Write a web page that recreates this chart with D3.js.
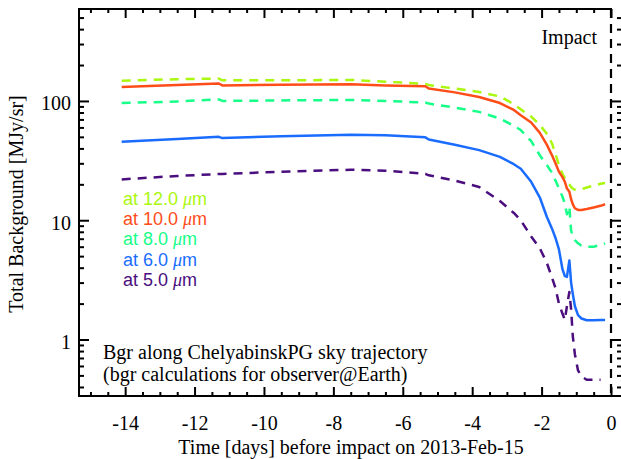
<!DOCTYPE html>
<html>
<head>
<meta charset="utf-8">
<script src="https://cdn.jsdelivr.net/npm/d3@7"></script>
<style>
  body { margin: 0; background: #fff; }
  svg { display: block; }
  text { font-family: "Liberation Serif", serif; fill: #000; }
</style>
</head>
<body>
<div id="chart"></div>
<script>
// Time axis (days before impact), shared by all series
const days = [-14.1, -12.5, -11.3, -11.2, -9.5, -7.5, -6.5, -5.35, -5.25, -4.5, -3.8, -3.2, -2.8, -2.6,
  -2.3, -2.05, -1.85, -1.7, -1.6, -1.5, -1.4, -1.33, -1.27, -1.2, -1.15, -1.1, -1.04, -0.95, -0.85,
  -0.7, -0.5, -0.3, -0.17];

// Total background [MJy/sr] per wavelength (null = no sample)
const bgr12 = [148, 152, 154, 149, 149, 150, 145, 139, 136, 127, 119, 109, 94, 85,
  74, 63, 53, 44, 36, 29, 24.5, 22.5, 21, 20, 19, 18.4, 18, 17.9, 18.2, 18.8, 19.5, 20.2, 20.5];
const bgr10 = [131, 136, 140, 135, 137, 138, 135, 133, 127, 118, 108, 96, 84, 76,
  66, 54, 43, 35, 30, 25.5, 23, 21, 18.5, 17.3, 15, 13.6, 12.6, 12.2, 12.2, 12.4, 12.8, 13.2, 13.6];
const bgr8 = [96, 99, 103, 100, 101, 102, 100, 97, 95, 88, 81, 71, 62, 57,
  46, 35, 29, 25, 21.5, 18.5, 15.8, 13.8, 11.2, 13, 8.2, 7.3, 6.8, 6.4, 6.1, 6.0, 6.0, 6.2, 6.4];
const bgr6 = [45.5, 48, 50, 48.8, 50.7, 52, 51.5, 49.5, 47.5, 43, 38.7, 34, 29.5, 27,
  21, 15.5, 10.7, 8.5, 7.1, 5.7, 3.9, 3.4, 3.35, 4.6, 3.0, 2.4, 1.9, 1.6, 1.5, 1.45, 1.45, 1.46, 1.46];
const bgr5 = [22, 23.5, 24.4, 24.4, 25.5, 26.5, 26, 24.5, 23.8, 21.5, 19, 14.5, 11.5, 10,
  7.3, 5.8, 4.4, 3.3, 2.7, 2.0, 1.65, 1.46, 1.9, 2.5, 1.8, 1.06, 0.75, 0.55, 0.49, 0.46, 0.46, 0.46, null];

const wavelengths = ["12.0", "10.0", "8.0", "6.0", "5.0"];
const xTicks = [-14, -12, -10, -8, -6, -4, -2, 0];
const yTicks = [1, 10, 100];
const yTickLabels = ["1", "10", "100"];

// Series styling
const series = [
  { wl: wavelengths[0], values: bgr12, color: "#aaf70f", dash: "9,7" },
  { wl: wavelengths[1], values: bgr10, color: "#ff4d1a", dash: null },
  { wl: wavelengths[2], values: bgr8, color: "#17ff88", dash: "9,7" },
  { wl: wavelengths[3], values: bgr6, color: "#1a6cff", dash: null },
  { wl: wavelengths[4], values: bgr5, color: "#4a0e7e", dash: "9,7" }
];

const W = 621, H = 459;
const plotLeft = 79, plotTop = 9, plotRight = 622, plotBottom = 396;

const svg = d3.select("#chart").append("svg")
  .attr("width", W).attr("height", H);

// Scales
const x = d3.scaleLinear().domain([-15.33, 0.317]).range([plotLeft, plotRight]);
const y = d3.scaleLog().domain([0.336, 590]).range([plotBottom, plotTop]);

// Minor ticks
const xMinor = d3.range(-15, 0.01, 0.5).filter(d => !xTicks.includes(d));
const yMinor = [];
[0.1, 1, 10, 100].forEach(dec => {
  for (let k = 2; k <= 9; k++) yMinor.push(dec * k);
});
const yMinorIn = yMinor.filter(v => v > 0.336 && v < 590);

const tickStyle = g => g.selectAll("line").attr("stroke", "#000").attr("stroke-width", 2);

// Bottom axis
const gx = svg.append("g").attr("transform", `translate(0,${plotBottom})`);
gx.call(d3.axisBottom(x).tickValues(xTicks).tickFormat(d => String(d))
  .tickSize(-9).tickSizeOuter(0).tickPadding(20));
gx.select(".domain").remove();
gx.call(tickStyle);
gx.selectAll("text").attr("font-size", 20).attr("font-family", "Liberation Serif");
svg.append("g").attr("transform", `translate(0,${plotBottom})`)
  .call(d3.axisBottom(x).tickValues(xMinor).tickFormat("").tickSize(-4).tickSizeOuter(0))
  .call(g => g.select(".domain").remove())
  .call(tickStyle);

// Top axis
svg.append("g").attr("transform", `translate(0,${plotTop})`)
  .call(d3.axisTop(x).tickValues(xTicks).tickFormat("").tickSize(-9).tickSizeOuter(0))
  .call(g => g.select(".domain").remove())
  .call(tickStyle);
svg.append("g").attr("transform", `translate(0,${plotTop})`)
  .call(d3.axisTop(x).tickValues(xMinor).tickFormat("").tickSize(-4).tickSizeOuter(0))
  .call(g => g.select(".domain").remove())
  .call(tickStyle);

// Left axis
const gy = svg.append("g").attr("transform", `translate(${plotLeft},0)`);
gy.call(d3.axisLeft(y).tickValues(yTicks).tickFormat((d, i) => yTickLabels[i])
  .tickSize(-10).tickSizeOuter(0).tickPadding(8));
gy.select(".domain").remove();
gy.call(tickStyle);
gy.selectAll("text").attr("font-size", 20).attr("font-family", "Liberation Serif").attr("dy", "0.45em");
svg.append("g").attr("transform", `translate(${plotLeft},0)`)
  .call(d3.axisLeft(y).tickValues(yMinorIn).tickFormat("").tickSize(-5).tickSizeOuter(0))
  .call(g => g.select(".domain").remove())
  .call(tickStyle);

// Right axis
svg.append("g").attr("transform", `translate(${plotRight},0)`)
  .call(d3.axisRight(y).tickValues(yTicks).tickFormat("").tickSize(-10).tickSizeOuter(0))
  .call(g => g.select(".domain").remove())
  .call(tickStyle);
svg.append("g").attr("transform", `translate(${plotRight},0)`)
  .call(d3.axisRight(y).tickValues(yMinorIn).tickFormat("").tickSize(-5).tickSizeOuter(0))
  .call(g => g.select(".domain").remove())
  .call(tickStyle);

// Frame lines
svg.append("line").attr("x1", plotLeft).attr("x2", plotLeft).attr("y1", plotTop - 1).attr("y2", plotBottom + 1)
  .attr("stroke", "#000").attr("stroke-width", 2);
svg.append("line").attr("x1", plotLeft - 1).attr("x2", W).attr("y1", plotBottom).attr("y2", plotBottom)
  .attr("stroke", "#000").attr("stroke-width", 2);
svg.append("line").attr("x1", plotLeft - 1).attr("x2", x(0) + 1).attr("y1", plotTop).attr("y2", plotTop)
  .attr("stroke", "#000").attr("stroke-width", 2);

// Impact line
svg.append("line").attr("x1", x(0)).attr("x2", x(0)).attr("y1", plotTop).attr("y2", plotBottom)
  .attr("stroke", "#000").attr("stroke-width", 2.2).attr("stroke-dasharray", "9,6");
svg.append("text").attr("x", x(0) - 14).attr("y", 44).attr("text-anchor", "end")
  .attr("font-size", 20).text("Impact");

// Lines
const line = d3.line().defined(d => d != null).x((d, i) => x(days[i])).y(d => y(d));
svg.selectAll(".series").data(series).enter().append("path")
  .attr("class", "series")
  .attr("d", s => line(s.values))
  .attr("fill", "none")
  .attr("stroke", s => s.color)
  .attr("stroke-width", 2.5)
  .attr("stroke-linejoin", "round")
  .attr("stroke-dasharray", s => s.dash);

// Legend
const legend = svg.append("g");
series.forEach((s, i) => {
  const t = legend.append("text")
    .attr("x", 123).attr("y", 204.5 + i * 20.4)
    .attr("font-size", 18)
    .style("font-family", "'Liberation Sans', Arial, sans-serif")
    .style("fill", s.color);
  t.append("tspan").text(`at ${s.wl} `);
  t.append("tspan").style("font-style", "italic").style("font-family", "'Liberation Serif', serif").text("\u03bc");
  t.append("tspan").text("m");
});

// Annotation
svg.append("text").attr("x", 103).attr("y", 359).attr("font-size", 20)
  .text("Bgr along ChelyabinskPG sky trajectory");
svg.append("text").attr("x", 103).attr("y", 381).attr("font-size", 20)
  .text("(bgr calculations for observer@Earth)");

// Axis titles
svg.append("text").attr("x", (plotLeft + x(0)) / 2 + 6).attr("y", 454).attr("text-anchor", "middle")
  .attr("font-size", 20).text("Time [days] before impact on 2013-Feb-15");
svg.append("text").attr("transform", `translate(23,${204}) rotate(-90)`).attr("text-anchor", "middle")
  .attr("font-size", 20).text("Total Background [MJy/sr]");
</script>
</body>
</html>
